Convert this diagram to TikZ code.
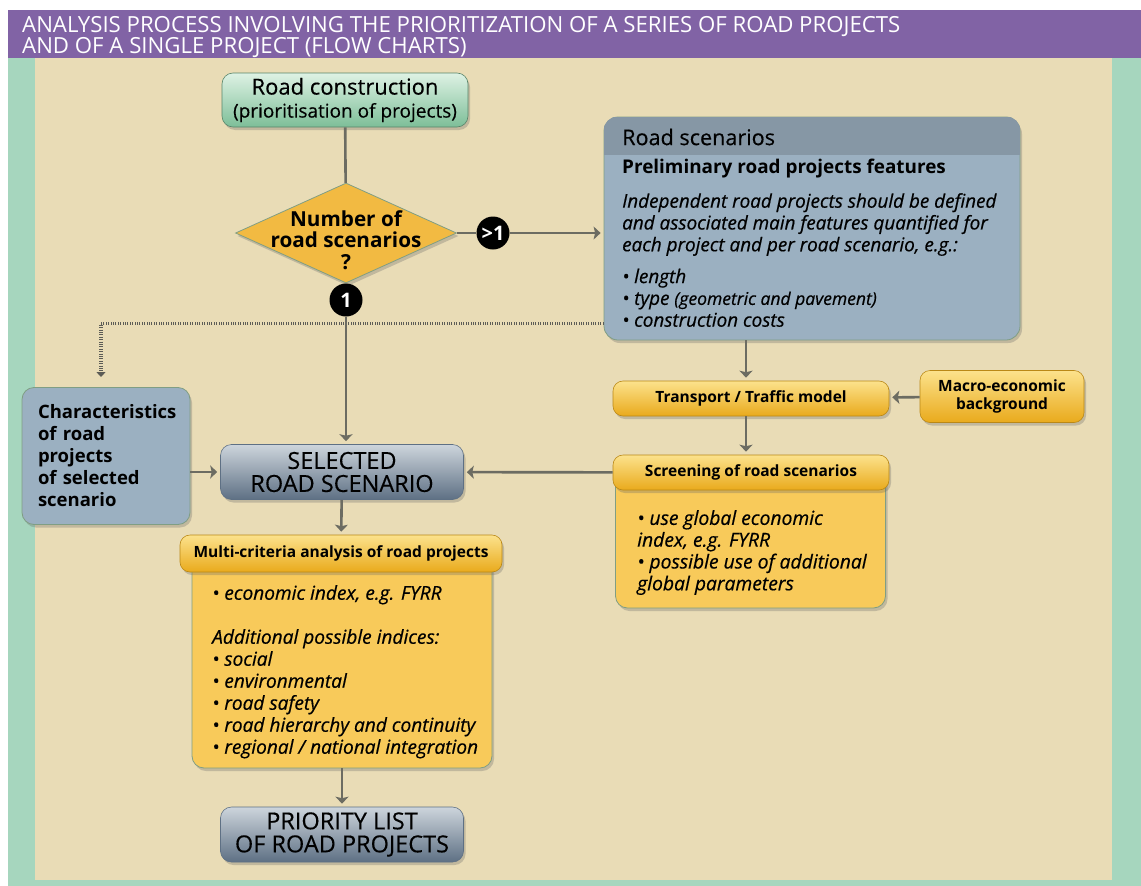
\documentclass[tikz,border=0pt]{standalone}
\usepackage{fontspec}
\setmainfont{Open Sans}[UprightFeatures={FakeBold=0.3}, ItalicFeatures={FakeBold=0.5}]
\newfontfamily\titlefont{Open Sans}
\usepackage{xcolor}
\usepackage{tikz}
\usetikzlibrary{arrows.meta,shapes,positioning,shadows}

\definecolor{bandpurple}{RGB}{129,99,165}
\definecolor{stripgreen}{RGB}{166,214,190}
\definecolor{panelbeige}{RGB}{233,220,182}
\definecolor{greytop}{RGB}{205,213,220}
\definecolor{greybot}{RGB}{94,112,132}
\definecolor{minttop}{RGB}{222,242,228}
\definecolor{mintbot}{RGB}{125,190,152}
\definecolor{goldtop}{RGB}{252,226,140}
\definecolor{goldbot}{RGB}{233,170,28}
\definecolor{goldbody}{RGB}{248,202,90}
\definecolor{diamondgold}{RGB}{242,186,66}
\definecolor{slateblue}{RGB}{155,176,193}
\definecolor{slatehead}{RGB}{134,151,165}
\definecolor{rimgreen}{RGB}{128,158,132}
\definecolor{linkgrey}{RGB}{108,108,98}
\definecolor{hatchgrey}{RGB}{92,92,86}

\newcommand{\fsz}[2]{\fontsize{#1}{#2}\selectfont}

\begin{document}
\begin{tikzpicture}[x=1pt, y=-1pt,
    >={Stealth[length=7pt, width=13pt, inset=1.5pt]},
    flow/.style={->, draw=linkgrey, line width=2.6pt, shorten >=3pt},
    link/.style={draw=linkgrey, line width=2.6pt},
    hatch/.style={draw=hatchgrey, line width=3.5pt, dash pattern=on 1pt off 1.4pt},
    shadowed/.style={drop shadow={shadow xshift=2pt, shadow yshift=-3pt, opacity=0.3, fill=black!60}},
    goldpill/.style={rectangle, rounded corners=10pt, draw=goldbot!80!black, line width=0.6pt,
        top color=goldtop, bottom color=goldbot, font=\bfseries\fsz{15.5}{18}, align=center, shadowed},
    goldbox/.style={rectangle, rounded corners=12pt, fill=goldbody, draw=rimgreen, line width=0.8pt, shadowed},
    greypill/.style={rectangle, rounded corners=11pt, draw=greybot, line width=0.6pt,
        top color=greytop, bottom color=greybot, font=\fsz{23.5}{23}, align=center, shadowed},
    slatebox/.style={rectangle, rounded corners=14pt, fill=slateblue, draw=rimgreen, line width=0.8pt, shadowed},
    badge/.style={circle, fill=black, text=white, font=\bfseries\fsz{20}{20}, inner sep=0pt, minimum size=33pt},
    textline/.style={inner sep=0pt, align=left, anchor=west},
]
% background and title band
\useasboundingbox (0,0) rectangle (1141,886);
\fill[stripgreen] (8,58) rectangle (1141,886);
\fill[panelbeige] (35,58) rectangle (1112,880);
\fill[bandpurple] (8,10) rectangle (1141,58);
\node (title) [textline, anchor=north west, text=white, font=\titlefont\fsz{22.2}{21.5}] at (22,16)
    {ANALYSIS PROCESS INVOLVING THE PRIORITIZATION OF A SERIES OF ROAD PROJECTS\\AND OF A SINGLE PROJECT (FLOW CHARTS)};

% left column
\node (construction) [rectangle, rounded corners=11pt, draw=mintbot!70!black, line width=0.6pt,
    top color=minttop, bottom color=mintbot, minimum width=246pt, minimum height=54pt, align=center,
    font=\fsz{19}{23}, shadowed]
    at (345,100) {{\fsz{22}{23}Road construction}\\(prioritisation of projects)};
\node (question) [diamond, fill=diamondgold, draw=rimgreen, line width=0.8pt, minimum width=221pt,
    minimum height=100pt, inner sep=0pt, shadowed] at (346,233) {};
\node (questiontext) [align=center, font=\bfseries\fsz{20.7}{21.5}] at (346,240) {Number of\\road scenarios\\?};
\node (many) [badge] at (493,233) {>1};
\node (one) [badge] at (346,300) {1};

% right column
\node (scenarios) [slatebox, minimum width=416pt, minimum height=223pt] at (812,228.5) {};
\begin{scope}
  \clip[rounded corners=14pt] (scenarios.north west) rectangle (scenarios.south east);
  \fill[slatehead] (scenarios.north west) rectangle ([yshift=-38pt]scenarios.north east);
\end{scope}
\node (scentitle) [textline, font=\fsz{21.6}{23}] at (622,137) {Road scenarios};
\node (scensub) [textline, font=\bfseries\fsz{18.9}{20}] at (622,169) {Preliminary road projects features};
\node (scentext) [textline, anchor=north west, font=\itshape\fsz{18.9}{21.8}] at (622,193)
    {Independent road projects should be defined\\and associated main features quantified for\\each project and per road scenario, e.g.:\\[10pt]
     • length\\• type {\fsz{17.5}{21.8}(geometric and pavement)}\\• construction costs};

% hatched link to the characteristics box
\coordinate (hatchend) at (101,377);
\draw[hatch, -{Triangle[length=5pt, width=9pt]}] ([yshift=17pt]scenarios.south west) -| (hatchend);

\node (charact) [slatebox, rounded corners=12pt, text width=136pt, inner xsep=16pt, minimum height=137pt,
    align=left, font=\bfseries\fsz{18.5}{22}] at (106,456)
    {Characteristics\\of road\\projects\\of selected\\scenario};
\node (selected) [greypill, minimum width=243pt, minimum height=55pt] at (342,472) {SELECTED\\ROAD SCENARIO};

\node (transport) [goldpill, minimum width=276pt, minimum height=35pt] at (751,398.5) {Transport / Traffic model};
\node (macro) [goldpill, minimum width=164pt, minimum height=52pt] at (1002,396.5) {Macro-economic\\background};

\node (screenbody) [goldbox, minimum width=270pt, minimum height=140pt] at (750.5,538) {};
\node (screening) [goldpill, minimum width=276pt, minimum height=35pt] at (751,472.5) {Screening of road scenarios};
\node (screentext) [textline, anchor=north west, font=\itshape\fsz{19.3}{21.8}] at (637,510)
    {• use global economic\\index, e.g. FYRR\\• possible use of additional\\global parameters};

\node (multibody) [goldbox, minimum width=300pt, minimum height=210pt] at (342,663) {};
\node (multi) [goldpill, minimum width=322pt, minimum height=37pt] at (341,553.5) {Multi-criteria analysis of road projects};
\node (multitext) [textline, anchor=north west, font=\itshape\fsz{19.1}{22}] at (212,585)
    {• economic index, e.g. FYRR\\[22pt]Additional possible indices:\\• social\\• environmental\\• road safety\\
     • road hierarchy and continuity\\• regional / national integration};

\node (priority) [greypill, minimum width=243pt, minimum height=55pt] at (342,834.5) {PRIORITY LIST\\OF ROAD PROJECTS};

% connectors
\draw[link] (construction) -- (question);
\draw[link] (question) -- (many);
\draw[link] (question) -- (one);
\draw[flow] (many) -- (many -| scenarios.west);
\draw[flow] (one) -- (one |- selected.north);
\draw[flow] (charact.east |- selected) -- (selected);
\draw[flow] (screening) -- (selected);
\draw[flow] ([xshift=-5pt]transport.north |- scenarios.south) -- ([xshift=-5pt]transport.north);
\draw[flow] (macro) -- (transport);
\draw[flow] ([xshift=-5pt]transport.south) -- ([xshift=-5pt]screening.north);
\draw[flow] (selected) -- (multi);
\draw[flow] (multibody) -- (priority);
\end{tikzpicture}
\end{document}
